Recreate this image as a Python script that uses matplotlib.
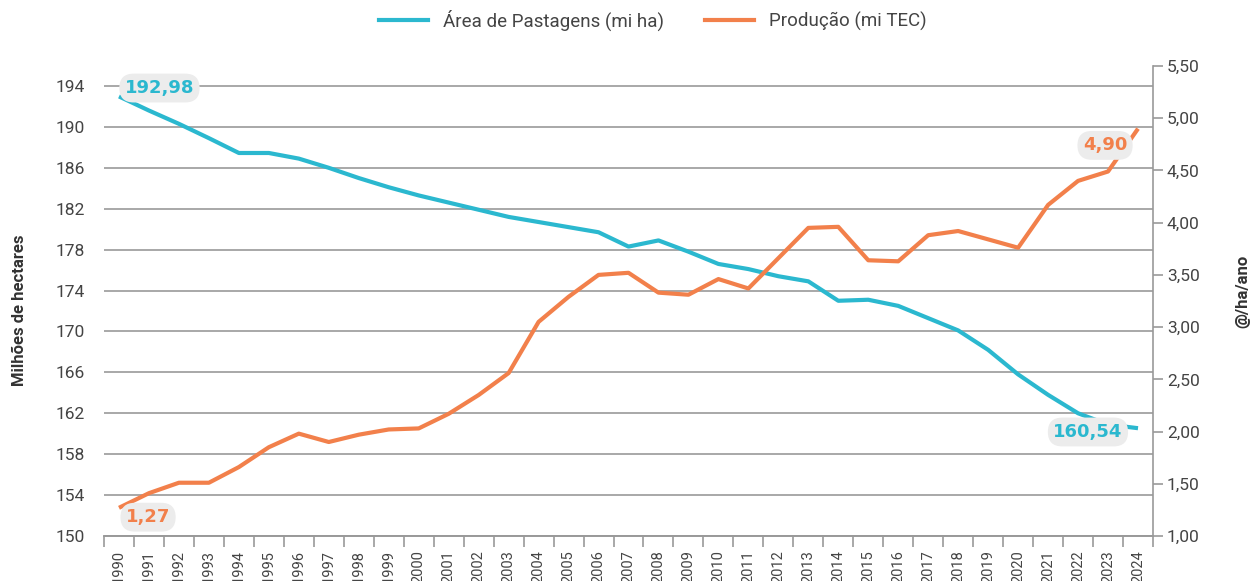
import matplotlib
matplotlib.use('Agg')
import matplotlib.pyplot as plt
import numpy as np

plt.rcParams['font.family'] = ['Roboto', 'DejaVu Sans']

anos = [str(a) for a in range(1990, 2025)]

# Área de Pastagens (milhões de ha) - eixo esquerdo
area = [192.98, 191.6, 190.3, 188.9, 187.45, 187.45, 186.9, 186.0, 185.0, 184.1,
        183.3, 182.6, 181.9, 181.2, 180.7, 180.2, 179.7, 178.3, 178.9, 177.8,
        176.6, 176.1, 175.4, 174.9, 173.0, 173.1, 172.5, 171.3, 170.1, 168.2,
        165.8, 163.8, 162.0, 160.9, 160.54]

# Produção (@/ha/ano) - eixo direito
producao = [1.27, 1.41, 1.51, 1.51, 1.66, 1.85, 1.98, 1.90, 1.97, 2.02,
            2.03, 2.17, 2.35, 2.56, 3.05, 3.29, 3.50, 3.52, 3.33, 3.31,
            3.46, 3.37, 3.66, 3.95, 3.96, 3.64, 3.63, 3.88, 3.92, 3.84,
            3.76, 4.17, 4.40, 4.49, 4.90]

ticks_esq = list(range(150, 195, 4))
ticks_dir = [1.0, 1.5, 2.0, 2.5, 3.0, 3.5, 4.0, 4.5, 5.0, 5.5]

azul = '#2bb8cf'
laranja = '#f2804b'
cinza = '#999999'
texto = '#444444'

fig = plt.figure(figsize=(12.55, 5.81), dpi=100)
ax = fig.add_axes([104/1255, 1-536/581, (1153-104)/1255, (536-66)/581])
ax2 = ax.twinx()

x = np.arange(len(anos))
ax.plot(x, area, color=azul, lw=3, solid_joinstyle='round', solid_capstyle='butt', zorder=3)
ax2.plot(x, producao, color=laranja, lw=3, solid_joinstyle='round', solid_capstyle='butt', zorder=3)

ax.set_xlim(-0.5, len(anos) - 0.5)
ax.set_ylim(150, 150 + 470/(450/44))
ax2.set_ylim(1, 5.5)

ax.set_yticks(ticks_esq)
ax.set_yticklabels([str(t) for t in ticks_esq], fontsize=12.5, color=texto)
ax.tick_params(axis='y', length=0, pad=14)
ax.grid(axis='y', color=cinza, lw=1.2)
ax.set_axisbelow(True)

ax.set_xticks(x)
ax.set_xticklabels(anos, rotation=90, fontsize=10.5, color=texto)
ax.set_xticks(np.arange(-0.5, len(anos)), minor=True)
ax.tick_params(axis='x', which='major', length=0, pad=10)
ax.tick_params(axis='x', which='minor', length=8, color=cinza, width=1.2)

ax2.set_yticks(ticks_dir)
ax2.set_yticklabels([f'{t:.2f}'.replace('.', ',') for t in ticks_dir], fontsize=12.5, color=texto)
ax2.tick_params(axis='y', length=7, color=cinza, width=1.2, pad=3)

for a in (ax, ax2):
    a.spines['top'].set_visible(False)
    a.spines['left'].set_visible(False)
    a.spines['right'].set_visible(False)
    a.spines['bottom'].set_color(cinza)
    a.spines['bottom'].set_linewidth(1.2)
ax2.spines['right'].set_visible(True)
ax2.spines['right'].set_color(cinza)
ax2.spines['right'].set_linewidth(1.2)

ax.set_ylabel('Milhões de hectares', fontsize=12, fontweight='bold', color='#333333')
ax.yaxis.set_label_coords(-0.073, 0.48)
ax2.set_ylabel('@/ha/ano', fontsize=12, fontweight='bold', color='#333333')
ax2.yaxis.set_label_coords(1.079, 0.52)

caixa = dict(boxstyle='round,pad=0.3,rounding_size=0.8', fc='#ececec', ec='none')
fonte_rot = dict(fontsize=13, fontweight='bold', family='DejaVu Sans',
                 ha='center', va='center', bbox=caixa, zorder=5)
ax.text(1.35, 193.8, '192,98', color=azul, **fonte_rot)
ax.text(32.33, 160.17, '160,54', color=azul, **fonte_rot)
ax2.text(0.97, 1.18, '1,27', color=laranja, **fonte_rot)
ax2.text(32.9, 4.74, '4,90', color=laranja, **fonte_rot)

h1, = ax.plot([], [], color=azul, lw=3)
h2, = ax.plot([], [], color=laranja, lw=3)
fig.legend([h1, h2], ['Área de Pastagens (mi ha)', 'Produção (mi TEC)'],
           loc='center', bbox_to_anchor=(0.52, 1-20/581), ncol=2, frameon=False,
           fontsize=13.5, handlelength=2.6, columnspacing=2.2, labelcolor=texto)

fig.savefig('out.png', dpi=100)
